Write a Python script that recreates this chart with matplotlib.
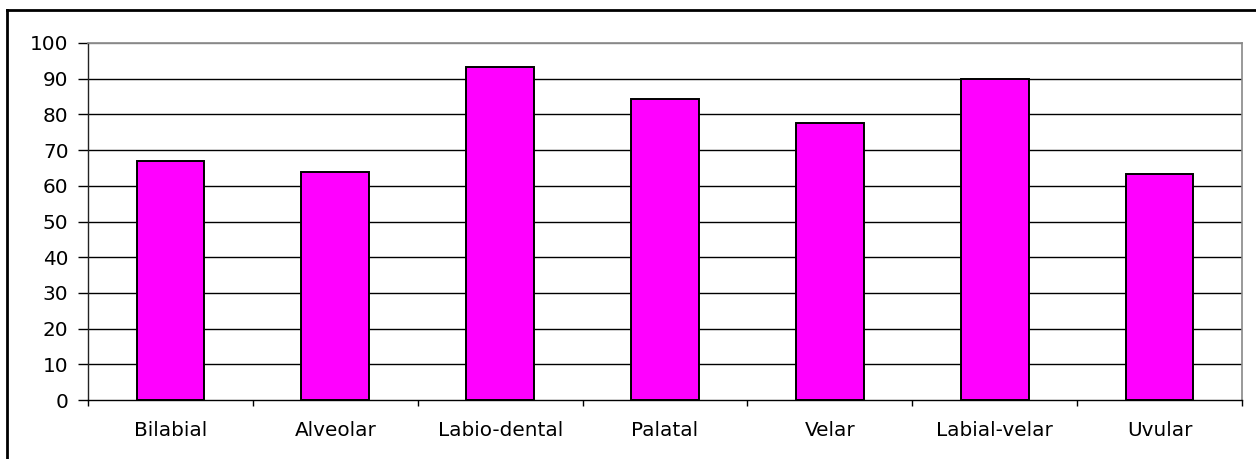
import matplotlib
matplotlib.use("Agg")
import matplotlib.pyplot as plt
from matplotlib.lines import Line2D

categories = ["Bilabial", "Alveolar", "Labio-dental", "Palatal", "Velar", "Labial-velar", "Uvular"]
values = [67, 64, 93.2, 84.2, 77.5, 90, 63.3]
yticks = list(range(0, 101, 10))

plt.rcParams['font.family'] = ['DejaVu Sans']

W, H = 1256, 459
fig = plt.figure(figsize=(W / 100, H / 100), dpi=100)
fig.patch.set_facecolor("white")

# plot area in pixel coordinates
left, right, top, bottom = 88, 1242, 43, 400
ax = fig.add_axes([left / W, 1 - bottom / H, (right - left) / W, (bottom - top) / H])

x = list(range(len(categories)))
ax.bar(x, values, width=0.41, color="#FF00FF", edgecolor="black", linewidth=1.4, zorder=3)

ax.set_xlim(-0.5, len(categories) - 0.5)
ax.set_ylim(0, 100)
ax.set_yticks(yticks)
ax.set_yticklabels([str(v) for v in yticks], fontsize=14.4)

# category labels centered, tick marks at category boundaries
ax.set_xticks(x)
ax.set_xticklabels(categories, fontsize=14.4)
ax.tick_params(axis="x", which="major", length=0, pad=15)
ax.set_xticks([i - 0.5 for i in range(len(categories) + 1)], minor=True)
ax.tick_params(axis="x", which="minor", length=4.5, width=1, color="black", direction="out")
ax.tick_params(axis="y", length=7, width=1, color="black", direction="out", pad=7)

for v in yticks[1:]:
    ax.axhline(v, color="black" if v < 100 else "#888888", linewidth=1, zorder=1)

for side in ["top", "right"]:
    ax.spines[side].set_color("#888888")
    ax.spines[side].set_linewidth(1.2)
ax.spines["left"].set_color("#222222")
ax.spines["bottom"].set_color("black")
ax.spines["left"].set_linewidth(1)
ax.spines["bottom"].set_linewidth(1)

# outer chart frame (left and top edges fall inside the image)
fig.add_artist(Line2D([6.5 / W, 6.5 / W], [0, 1 - 10 / H], transform=fig.transFigure,
                      color="black", linewidth=2, solid_capstyle="projecting"))
fig.add_artist(Line2D([6.5 / W, 1], [1 - 10 / H, 1 - 10 / H], transform=fig.transFigure,
                      color="black", linewidth=2, solid_capstyle="projecting"))

fig.savefig("out.png", dpi=100)
